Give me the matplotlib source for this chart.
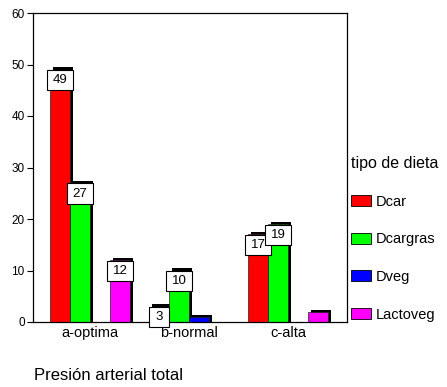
import matplotlib
matplotlib.use("Agg")
import matplotlib.pyplot as plt
from matplotlib.patches import Rectangle, Patch
import numpy as np

plt.rcParams["font.family"] = ["Liberation Sans", "DejaVu Sans"]

categories = ["a-optima", "b-normal", "c-alta"]
series_names = ["Dcar", "Dcargras", "Dveg", "Lactoveg"]
dcar = [49, 3, 17]
dcargras = [27, 10, 19]
dveg = [0, 1, 0]
lactoveg = [12, 0, 2]
series_values = [dcar, dcargras, dveg, lactoveg]
colors = ["#ff0000", "#00ff00", "#0000ff", "#ff00ff"]
yticks = [0, 10, 20, 30, 40, 50, 60]

W, H = 447, 387
fig = plt.figure(figsize=(W / 100, H / 100), dpi=100)
ax = fig.add_axes([33 / W, 1 - 322 / H, (347 - 33) / W, (322 - 13) / H])

x = np.arange(len(categories))
bw = 0.202            # bar width in category units
dx, dy = 0.03, 0.42   # drop-shadow offset (x in category units, y in value units)
box_h = 3.9           # value-label box height in value units

for i, (name, vals, col) in enumerate(zip(series_names, series_values, colors)):
    pos = x + (i - 1.5) * bw
    for p, v in zip(pos, vals):
        if v <= 0:
            continue
        ax.bar(p + dx, v + dy, width=bw, color="black", zorder=1)
        ax.bar(p, v, width=bw, color=col, edgecolor="#222222", linewidth=0.5, zorder=2)

# value labels in white boxes at the top of each bar
for i, vals in enumerate(series_values):
    pos = x + (i - 1.5) * bw
    for p, v in zip(pos, vals):
        if v < 3:
            continue
        txt = str(v)
        bwid = 0.26 if len(txt) > 1 else 0.21
        top = v - 0.1
        ax.add_patch(Rectangle((p - bwid / 2, top - box_h), bwid, box_h,
                               facecolor="white", edgecolor="black",
                               linewidth=0.8, zorder=4, clip_on=False))
        ax.text(p, top - box_h / 2, txt, ha="center", va="center",
                fontsize=9.5, zorder=5)

ax.set_xlim(-0.576, 2.596)
ax.set_ylim(0, 60)
ax.set_yticks(yticks)
ax.set_yticklabels([str(t) for t in yticks], fontsize=8.5)
ax.set_xticks(x)
ax.set_xticklabels(categories, fontsize=10.5)
ax.tick_params(axis="x", length=0, pad=3)
ax.tick_params(axis="y", length=4, width=0.8, pad=2, direction="out")
for s in ax.spines.values():
    s.set_linewidth(0.9)

handles = [Patch(facecolor=c, edgecolor="black", linewidth=0.6) for c in colors]
fig.legend(handles, series_names, title="tipo de dieta", loc="upper left",
           bbox_to_anchor=(351 / W, 1 - 156 / H), frameon=False,
           fontsize=10.5, title_fontsize=11.5, alignment="left",
           handlelength=1.37, handleheight=0.82, handletextpad=0.35,
           labelspacing=1.62, borderpad=0, borderaxespad=0)

fig.text(34 / W, 1 - 376 / H, "Presión arterial total", ha="left",
         va="center", fontsize=12)

fig.savefig("out.png", dpi=100)
